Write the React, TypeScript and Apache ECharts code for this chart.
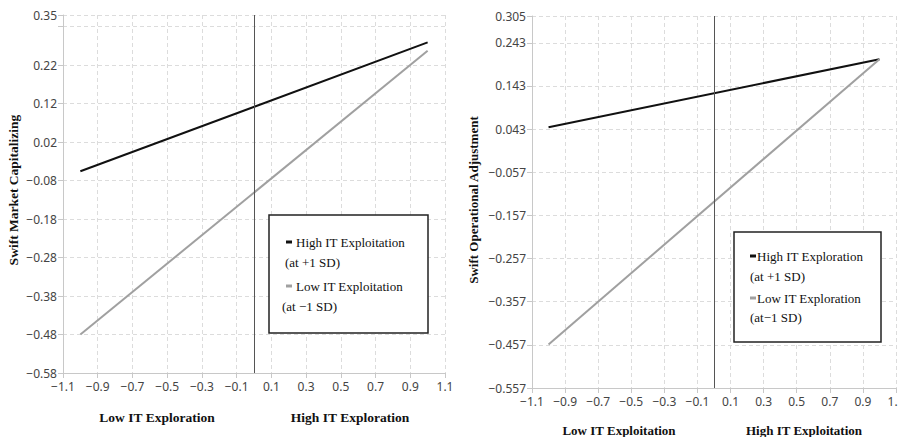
import React, { useEffect, useRef } from "react";
import * as echarts from "echarts";

// x positions of the simple-slope end points
const xValues = [-1, 1];
// Left panel: Swift Market Capitalizing
const leftHighExploitation = [-0.056, 0.279];
const leftLowExploitation = [-0.48, 0.257];
// Right panel: Swift Operational Adjustment
const rightHighExploration = [0.047, 0.205];
const rightLowExploration = [-0.456, 0.205];

const leftYTitle = "Swift Market Capitalizing";
const rightYTitle = "Swift Operational Adjustment";
const leftXNames = ["Low IT Exploration", "High IT Exploration"];
const rightXNames = ["Low IT Exploitation", "High IT Exploitation"];
const leftLegend = ["High IT Exploitation", "(at +1 SD)", "Low IT Exploitation", "(at \u22121 SD)"];
const rightLegend = ["High IT Exploration", "(at +1 SD)", "Low IT Exploration", "(at\u22121 SD)"];

const pts = (ys: number[]) => xValues.map((x, i) => [x, ys[i]]);
const minus = (s: string) => s.replace("-", "\u2212");

const SERIF = "'Liberation Serif', 'Times New Roman', serif";
const SANS = "'Noto Sans', 'Open Sans', sans-serif";

export default function App() {
  const ref = useRef<HTMLDivElement>(null);
  useEffect(() => {
    document.body.style.margin = "0";
    const chart = echarts.init(ref.current!, null, { renderer: "svg" });

    const xAxisCommon = {
      type: "value",
      min: -1.1,
      max: 1.1,
      interval: 0.2,
      axisLine: { show: true, onZero: false, lineStyle: { color: "#c8c8c8" } },
      axisTick: { show: true, length: 5, lineStyle: { color: "#c8c8c8" } },
      axisLabel: {
        color: "#444",
        fontFamily: SANS,
        fontSize: 12,
        margin: 7,
        formatter: (v: number) => minus(v.toFixed(1)),
      },
      splitLine: { show: true, lineStyle: { color: "#dcdcdc", type: [4, 3] } },
    };
    const yAxisCommon = {
      type: "value",
      interval: 0.1,
      axisLine: { show: true, onZero: false, lineStyle: { color: "#c8c8c8" } },
      axisTick: { show: true, length: 5, lineStyle: { color: "#c8c8c8" } },
      splitLine: { show: true, lineStyle: { color: "#dcdcdc", type: [4, 3] } },
    };

    const markZero = {
      silent: true,
      symbol: ["none", "none"],
      label: { show: false },
      lineStyle: { color: "#555", width: 1, type: "solid" },
      data: [{ xAxis: 0 }],
    };

    const legendGroup = (
      x: number,
      y: number,
      w: number,
      h: number,
      items: string[],
      rows: number[][],
    ) => [
      {
        type: "rect",
        shape: { x, y, width: w, height: h },
        style: { fill: "#fff", stroke: "#222", lineWidth: 1.5 },
        z: 100,
      },
      {
        type: "rect",
        shape: { x: rows[0][0], y: rows[0][1] - 1.5, width: 6, height: 3 },
        style: { fill: "#111" },
        z: 101,
      },
      {
        type: "rect",
        shape: { x: rows[2][0], y: rows[2][1] - 1.5, width: 6, height: 3 },
        style: { fill: "#a0a0a0" },
        z: 101,
      },
      ...items.map((t, i) => ({
        type: "text",
        x: rows[i][i % 2 === 0 ? 2 : 0],
        y: rows[i][1],
        style: {
          text: t,
          fill: "#111",
          font: `13px ${SERIF}`,
          textVerticalAlign: "middle",
          textAlign: "left",
        },
        z: 101,
      })),
    ];

    const title = (text: string, x: number, y: number, size: number, rotate = false) => ({
      type: "text",
      x,
      y,
      rotation: rotate ? Math.PI / 2 : 0,
      style: {
        text,
        fill: "#111",
        font: `bold ${size}px ${SERIF}`,
        textAlign: "center",
        textVerticalAlign: "middle",
      },
      z: 100,
    });

    chart.setOption({
      animation: false,
      grid: [
        { left: 63, top: 15, width: 382, height: 358, outerBoundsMode: "none", containLabel: false },
        { left: 532, top: 16, width: 364, height: 372, outerBoundsMode: "none", containLabel: false },
      ],
      xAxis: [
        { ...xAxisCommon, gridIndex: 0 },
        { ...xAxisCommon, gridIndex: 1 },
      ],
      yAxis: [
        {
          ...yAxisCommon,
          gridIndex: 0,
          min: -0.58,
          max: 0.35,
          axisLabel: {
            color: "#444",
            fontFamily: SANS,
            fontSize: 12,
            margin: 6,
            formatter: (v: number) =>
              Math.abs(v - 0.32) < 1e-6 ? "" : minus(v.toFixed(2)),
          },
        },
        {
          ...yAxisCommon,
          gridIndex: 1,
          min: -0.557,
          max: 0.305,
          axisLabel: {
            color: "#444",
            fontFamily: SANS,
            fontSize: 12,
            margin: 6,
            formatter: (v: number) => minus(v.toFixed(3)),
          },
        },
      ],
      series: [
        {
          type: "line",
          name: "High IT Exploitation",
          xAxisIndex: 0,
          yAxisIndex: 0,
          data: pts(leftHighExploitation),
          symbol: "none",
          lineStyle: { color: "#111", width: 2 },
          markLine: markZero,
        },
        {
          type: "line",
          name: "Low IT Exploitation",
          xAxisIndex: 0,
          yAxisIndex: 0,
          data: pts(leftLowExploitation),
          symbol: "none",
          lineStyle: { color: "#a0a0a0", width: 2 },
        },
        {
          type: "line",
          name: "High IT Exploration",
          xAxisIndex: 1,
          yAxisIndex: 1,
          data: pts(rightHighExploration),
          symbol: "none",
          lineStyle: { color: "#111", width: 2 },
          markLine: markZero,
        },
        {
          type: "line",
          name: "Low IT Exploration",
          xAxisIndex: 1,
          yAxisIndex: 1,
          data: pts(rightLowExploration),
          symbol: "none",
          lineStyle: { color: "#a0a0a0", width: 2 },
        },
      ],
      graphic: [
        title(leftYTitle, 13, 190, 13.5, true),
        title(rightYTitle, 473, 200, 13, true),
        title(leftXNames[0], 157, 417, 13.5),
        title(leftXNames[1], 350, 417, 13.5),
        title(rightXNames[0], 619, 430, 13),
        title(rightXNames[1], 804, 430, 13),
        ...legendGroup(269, 215, 159, 118, leftLegend, [
          [286, 242, 296],
          [285, 262],
          [286, 286, 296],
          [282, 306],
        ]),
        ...legendGroup(734, 232, 147, 110, rightLegend, [
          [750, 256, 757],
          [750, 276],
          [750, 298, 757],
          [750, 317],
        ]),
      ],
    });
    return () => chart.dispose();
  }, []);
  return <div ref={ref} style={{ width: 898, height: 437 }} />;
}
